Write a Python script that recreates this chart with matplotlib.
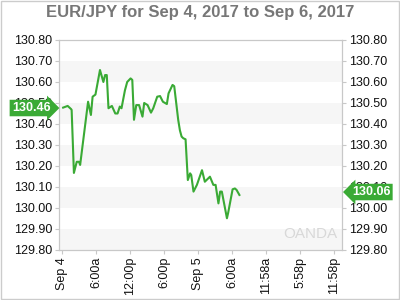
import matplotlib.pyplot as plt
from matplotlib.patches import Rectangle
from matplotlib.transforms import blended_transform_factory

# Datos (horas desde Sep 4 00:00, precio EUR/JPY)
hours = [0.2, 1.0, 1.6, 1.7, 2.1, 2.6, 3.0, 3.2, 4.6, 5.1, 5.4, 5.9, 6.7, 7.3,
         7.6, 7.9, 8.2, 8.8, 9.4, 9.8, 10.2, 10.5, 11.1, 11.5, 12.1, 12.4,
         12.7, 13.1, 13.6, 14.2, 14.5, 15.1, 15.7, 16.1, 16.8, 17.3, 17.8,
         18.5, 18.8, 19.5, 19.8, 20.5, 20.8, 21.1, 21.4, 21.8, 22.2, 22.6,
         22.8, 23.2, 23.8, 24.7, 25.2, 25.8, 26.1, 26.7, 27.1, 27.6, 27.9,
         28.2, 29.1, 29.3, 30.1, 30.5, 30.8, 31.3]
price = [130.478, 130.486, 130.471, 130.467, 130.167, 130.22, 130.22, 130.205,
         130.506, 130.443, 130.53, 130.54, 130.657, 130.60, 130.633, 130.633,
         130.475, 130.486, 130.45, 130.45, 130.483, 130.475, 130.56, 130.60,
         130.617, 130.61, 130.42, 130.49, 130.49, 130.435, 130.50, 130.49,
         130.454, 130.475, 130.53, 130.533, 130.506, 130.495, 130.546, 130.586,
         130.58, 130.42, 130.37, 130.34, 130.332, 130.327, 130.133, 130.165,
         130.157, 130.078, 130.11, 130.18, 130.125, 130.141, 130.149, 130.11,
         130.11, 130.022, 130.078, 130.078, 129.951, 129.975, 130.089, 130.093,
         130.086, 130.062]

tick_hours = [0, 6, 12, 18, 24, 30, 36, 42, 48]
tick_labels = ['Sep 4', '6:00a', '12:00p', '6:00p', 'Sep 5', '6:00a',
               '11:58a', '5:58p', '11:58p']
y_ticks = [129.80, 129.90, 130.00, 130.10, 130.20, 130.30, 130.40, 130.50,
           130.60, 130.70, 130.80]
bands = [(129.8, 129.9), (130.0, 130.1), (130.2, 130.3), (130.4, 130.5),
         (130.6, 130.7)]
open_label = 130.46
last_label = 130.06

green = '#3aaa35'
grid_grey = '#c8c8c8'
plt.rcParams['font.family'] = ['Liberation Sans', 'DejaVu Sans']

fig = plt.figure(figsize=(4, 3), dpi=100)
ax = fig.add_axes([0.1475, 0.1667, 0.7075, 0.7])

for lo, hi in bands:
    ax.axhspan(lo, hi, color='#f6f6f6', lw=0, zorder=0)

ax.plot(hours, price, color=green, lw=1.5, zorder=3)

ax.set_xlim(-0.53, 49.4)
ax.set_ylim(129.80, 130.80)
ax.set_yticks(y_ticks)
ax.set_yticklabels([f'{v:.2f}' for v in y_ticks])
ax.set_xticks(tick_hours)
ax.set_xticklabels(tick_labels, rotation=90)
ax.tick_params(axis='both', labelsize=9, color=grid_grey, length=3,
               width=0.8, labelcolor='#111111', pad=2)
ax.tick_params(axis='y', right=True, labelright=True)
for s in ax.spines.values():
    s.set_color(grid_grey)
    s.set_linewidth(0.9)

fig.suptitle('EUR/JPY for Sep 4, 2017 to Sep 6, 2017', y=0.985,
             fontsize=12, fontweight='bold', color='#777777')

# Etiquetas verdes de precio
trans = blended_transform_factory(ax.transAxes, ax.transData)
ax.text(-0.03, open_label + 0.016, f'{open_label:.2f}', transform=trans,
        ha='right', va='center', fontsize=9, fontweight='bold', color='white',
        bbox=dict(boxstyle='rarrow,pad=0.18', fc=green, ec='none'),
        clip_on=False, zorder=5)
ax.text(1.035, last_label + 0.016, f'{last_label:.2f}', transform=trans,
        ha='left', va='center', fontsize=9, fontweight='bold', color='white',
        bbox=dict(boxstyle='larrow,pad=0.18', fc=green, ec='none'),
        clip_on=False, zorder=5)

# Marca de agua
ax.text(0.985, 0.045, 'OANDA', transform=ax.transAxes, ha='right',
        va='bottom', fontsize=11, color='#d8d8d8', zorder=1)

fig.patches.append(Rectangle((0.002, 0.003), 0.995, 0.993,
                             transform=fig.transFigure, fill=False,
                             ec='#cccccc', lw=1))

fig.savefig('out.png', dpi=100)
